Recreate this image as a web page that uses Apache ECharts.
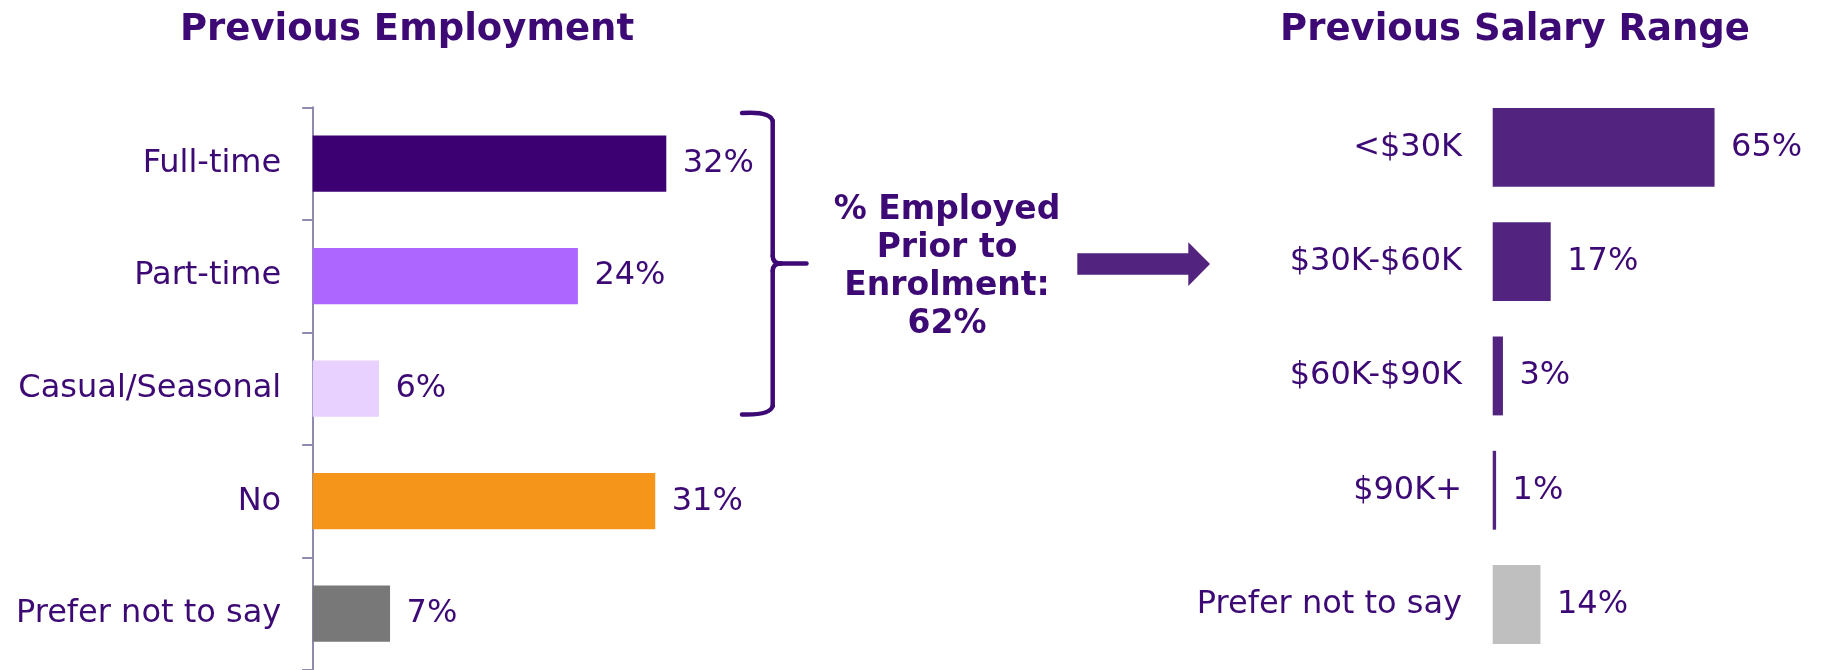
<!DOCTYPE html>
<html>
<head>
<meta charset="utf-8">
<script src="https://cdn.jsdelivr.net/npm/echarts@6/dist/echarts.min.js"></script>
<style>html,body{margin:0;padding:0;background:#fff}#c{width:1834px;height:670px}</style>
</head>
<body>
<div id="c"></div>
<script>
// ---- data ----
const employmentCategories = ['Full-time', 'Part-time', 'Casual/Seasonal', 'No', 'Prefer not to say'];
const employmentValues = [32, 24, 6, 31, 7];
const employmentColors = ['#3D0073', '#AD66FF', '#E8D0FF', '#F5961A', '#787878'];

const salaryCategories = ['<$30K', '$30K-$60K', '$60K-$90K', '$90K+', 'Prefer not to say'];
const salaryValues = [65, 17, 3, 1, 14];
const salaryColors = ['#52247F', '#52247F', '#52247F', '#52247F', '#BFBFBF'];

const titleLeft = 'Previous Employment';
const titleRight = 'Previous Salary Range';
const calloutText = '% Employed\nPrior to\nEnrolment:\n62%';

const TXT = '#3D0A75';
const FONT = '"DejaVu Sans", sans-serif';

const chart = echarts.init(document.getElementById('c'), null, {renderer: 'canvas'});

const braceStyle = {fill: null, stroke: TXT, lineWidth: 4.5, lineCap: 'round'};
const brace = [
  {type: 'bezierCurve', shape: {x1: 742, y1: 113, cpx1: 770, cpy1: 111, x2: 772.7, y2: 121}},
  {type: 'line', shape: {x1: 772.7, y1: 121, x2: 772.7, y2: 256}},
  {type: 'bezierCurve', shape: {x1: 772.7, y1: 256, cpx1: 772.7, cpy1: 263.5, x2: 781, y2: 263.5}},
  {type: 'line', shape: {x1: 781, y1: 263.5, x2: 806.5, y2: 263.5}},
  {type: 'bezierCurve', shape: {x1: 781, y1: 263.5, cpx1: 772.7, cpy1: 263.5, x2: 772.7, y2: 271}},
  {type: 'line', shape: {x1: 772.7, y1: 271, x2: 772.7, y2: 406}},
  {type: 'bezierCurve', shape: {x1: 772.7, y1: 406, cpx1: 770, cpy1: 415.5, x2: 742, y2: 414.5}}
].map(e => Object.assign(e, {silent: true, style: braceStyle}));

chart.setOption({
  animation: false,
  backgroundColor: '#fff',
  title: [
    {text: titleLeft, left: 402, top: 7, textAlign: 'center',
     textStyle: {color: TXT, fontFamily: FONT, fontWeight: 'bold', fontSize: 37}},
    {text: titleRight, left: 1510, top: 7, textAlign: 'center',
     textStyle: {color: TXT, fontFamily: FONT, fontWeight: 'bold', fontSize: 37}}
  ],
  grid: [
    {left: 312.7, top: 107.3, width: 442, height: 565, containLabel: false},
    {left: 1492.7, top: 90.2, width: 355.4, height: 571.5, containLabel: false}
  ],
  xAxis: [
    {gridIndex: 0, type: 'value', min: 0, max: 40, show: false},
    {gridIndex: 1, type: 'value', min: 0, max: 100, show: false}
  ],
  yAxis: [
    {gridIndex: 0, type: 'category', inverse: true, data: employmentCategories,
     axisLine: {show: true, lineStyle: {color: '#918AAE', width: 2}},
     axisTick: {show: true, length: 10.5, lineStyle: {color: '#918AAE', width: 2}},
     axisLabel: {margin: 31.5, color: TXT, fontFamily: FONT, fontSize: 32},
     splitLine: {show: false}},
    {gridIndex: 1, type: 'category', inverse: true, data: salaryCategories,
     axisLine: {show: false}, axisTick: {show: false},
     axisLabel: {margin: 30.7, color: TXT, fontFamily: FONT, fontSize: 32},
     splitLine: {show: false}}
  ],
  series: [
    {type: 'bar', xAxisIndex: 0, yAxisIndex: 0, barCategoryGap: '50%',
     data: employmentValues.map((v, i) => ({value: v, itemStyle: {color: employmentColors[i]}})),
     label: {show: true, position: 'right', distance: 16.5, formatter: '{c}%',
             color: TXT, fontFamily: FONT, fontSize: 32}},
    {type: 'bar', xAxisIndex: 1, yAxisIndex: 1, barCategoryGap: '31%',
     data: salaryValues.map((v, i) => ({value: v, itemStyle: {color: salaryColors[i]}})),
     label: {show: true, position: 'right', distance: 16.5, formatter: '{c}%',
             color: TXT, fontFamily: FONT, fontSize: 32}}
  ],
  graphic: brace.concat([
    {type: 'text', silent: true, x: 947, y: 267.5,
     style: {text: calloutText, fill: TXT, fontFamily: FONT, fontWeight: 'bold', fontSize: 33,
             lineHeight: 37.8, align: 'center', verticalAlign: 'middle'}},
    {type: 'polygon', silent: true,
     shape: {points: [[1077.3,253.3],[1188.3,253.3],[1188.3,242.3],[1210,264],[1188.3,286],[1188.3,274.7],[1077.3,274.7]]},
     style: {fill: '#52247F'}}
  ])
});
</script>
</body>
</html>
